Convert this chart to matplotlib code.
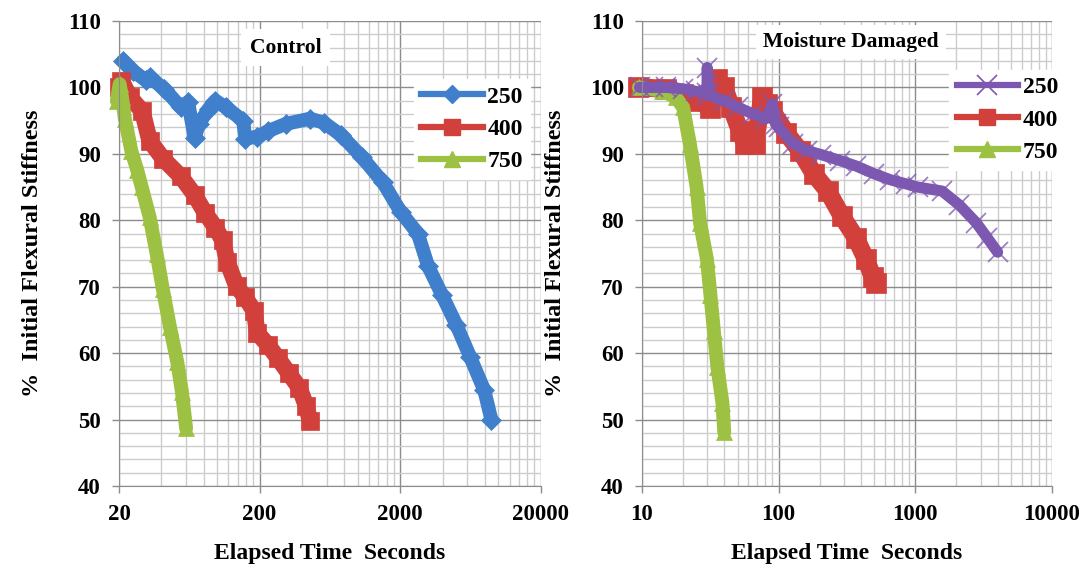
import numpy as np
import matplotlib
matplotlib.use("Agg")
import matplotlib.pyplot as plt
from matplotlib.ticker import FixedLocator, MultipleLocator, LogLocator, NullFormatter

plt.rcParams['font.family'] = ['Liberation Serif', 'DejaVu Serif']
plt.rcParams['font.weight'] = 'bold'

# --- Control (left panel) ---
ctrl_250_t = [21.4, 25, 31, 33, 42, 55, 62, 69, 74, 87, 97, 115, 153, 158, 193, 228, 306,
              457, 572, 763, 1070, 1509, 2010, 2670, 3160, 3980, 5010, 6300, 7930, 8900]
ctrl_250_s = [104, 102.5, 101.1, 101.5, 99.8, 97, 97.8, 92.4, 94.5, 96.8, 98, 97, 95, 92.3, 92.6, 93.4, 94.5,
              95.3, 94.7, 92.8, 89.5, 85.7, 81.3, 78, 73.1, 68.7, 64.3, 59.4, 54.4, 50]

ctrl_400_t = [20, 20.8, 24, 29.3, 33, 41, 55, 69, 82, 97, 109, 118, 137, 158, 183, 193,
              228, 271, 322, 383, 430, 457]
ctrl_400_s = [100, 101, 98.5, 96.4, 92, 89.3, 86.6, 83.8, 81.1, 78.9, 77, 73.7, 70.1, 68.4, 66.3, 63,
              61.3, 59.2, 57, 54.8, 52, 49.8]

ctrl_750_t = [19.3, 20.2, 21, 22, 24.5, 27, 29, 33, 37, 41, 46, 52, 56, 60]
ctrl_750_s = [98, 100.5, 98.5, 95.3, 90.4, 87.5, 85, 80.5, 75, 69.6, 64, 58.6, 54.2, 48.7]

# --- Moisture damaged (right panel) ---
mois_250_t = [9.6, 12, 15, 19.9, 25, 29.9, 30, 31, 40, 50.5, 65, 80.8, 90, 95, 100, 128, 160,
              204, 280, 366, 500, 656, 850, 1040, 1570, 2100, 2800, 3350, 4000]
mois_250_s = [100, 100, 100, 99.8, 99.4, 99.1, 103, 98.8, 98, 97, 96, 95.3, 97.5, 94.5, 94, 91.5, 90.5,
              89.9, 89, 88.2, 87, 86.1, 85.5, 85, 84.4, 82.3, 79.6, 77.4, 75.2]

mois_400_t = [9.3, 15, 19.9, 26, 31.7, 35.6, 40, 45, 52, 56.7, 67, 75.7, 82, 90, 114,
              144, 181, 229, 290, 366, 435, 489, 517]
mois_400_s = [100, 99.8, 99, 98, 96.9, 101.2, 100, 97, 93.5, 91.5, 91.5, 98.5, 97.5, 96.4, 93.1,
              90.4, 87, 84.4, 80.6, 77.4, 74.1, 71.4, 70.5]

mois_750_t = [9.5, 14, 17.7, 20, 22.4, 25.1, 26.6, 29.9, 31.7, 33.6, 35.6, 38.8, 40]
mois_750_s = [100, 99.5, 98.5, 97, 91.5, 85, 79.6, 74.1, 68.7, 63.3, 57.9, 52.5, 48.1]

labels = ['250', '400', '750']
blue, red, green, purple = '#3f7fcb', '#d2403c', '#9dc142', '#7d58b0'

fig = plt.figure(figsize=(10.87, 5.66), dpi=100)
ax1 = fig.add_axes([0.1095, 0.1413, 0.388, 0.8216])
ax2 = fig.add_axes([0.5906, 0.1413, 0.3772, 0.8216])


def style_axis(ax, xmin, xmax, minor_x):
    ax.set_xscale('log')
    ax.set_xlim(xmin, xmax)
    ax.set_ylim(40, 110)
    ax.yaxis.set_major_locator(MultipleLocator(10))
    ax.yaxis.set_minor_locator(MultipleLocator(2))
    ax.xaxis.set_minor_locator(minor_x)
    ax.xaxis.set_minor_formatter(NullFormatter())
    ax.grid(which='minor', color='#cccccc', lw=1.0)
    ax.grid(which='major', color='#8c8c8c', lw=1.0)
    ax.set_axisbelow(True)
    for sp in ax.spines.values():
        sp.set_visible(False)
    ax.spines['left'].set_visible(True)
    ax.spines['bottom'].set_visible(True)
    ax.spines['left'].set_color('#8c8c8c')
    ax.spines['bottom'].set_color('#8c8c8c')
    ax.tick_params(which='major', length=5, color='#8c8c8c', width=1, labelsize=16.5, pad=8)
    ax.tick_params(which='minor', length=0)
    ax.set_xlabel('Elapsed Time  Seconds', fontsize=17, fontweight='bold', labelpad=13)
    ax.set_ylabel('%  Initial Flexural Stiffness', fontsize=17.5, fontweight='bold', labelpad=17)


def band(ax, t, s, color, marker, ms, lw, mew=0.5, alpha=1.0):
    ax.plot(t, s, color=color, lw=lw, solid_capstyle='round', solid_joinstyle='round', clip_on=False)
    ax.plot(t, s, color=color, lw=0, marker=marker, ms=ms, mew=mew, alpha=alpha, clip_on=False)


ctrl_minor = FixedLocator([20 * k * 10 ** n for n in range(3) for k in range(2, 10)])
style_axis(ax1, 20, 20000, ctrl_minor)
ax1.xaxis.set_major_locator(FixedLocator([20, 200, 2000, 20000]))
ax1.set_xticklabels(['20', '200', '2000', '20000'])

band(ax1, ctrl_250_t, ctrl_250_s, blue, 'D', 10, 10)
band(ax1, ctrl_400_t, ctrl_400_s, red, 's', 13, 12)
band(ax1, ctrl_750_t, ctrl_750_s, green, '^', 12, 10)
ax1.plot([], [], color=blue, lw=4.5, marker='D', ms=9, label=labels[0])
ax1.plot([], [], color=red, lw=4.5, marker='s', ms=12, label=labels[1])
ax1.plot([], [], color=green, lw=4.5, marker='^', ms=12, label=labels[2])

style_axis(ax2, 10, 10000, LogLocator(base=10, subs=np.arange(2, 10)))
ax2.xaxis.set_major_locator(FixedLocator([10, 100, 1000, 10000]))
ax2.set_xticklabels(['10', '100', '1000', '10000'])

band(ax2, mois_400_t, mois_400_s, red, 's', 14, 13)
band(ax2, mois_750_t, mois_750_s, green, '^', 12, 10)
band(ax2, mois_250_t, mois_250_s, purple, 'x', 15, 8, mew=1.3, alpha=0.75)
ax2.plot([], [], color=purple, lw=4.5, marker='x', ms=14, mew=1.2, label=labels[0])
ax2.plot([], [], color=red, lw=4.5, marker='s', ms=12, label=labels[1])
ax2.plot([], [], color=green, lw=4.5, marker='^', ms=12, label=labels[2])

for ax, loc in [(ax1, (0.70, 0.66)), (ax2, (0.75, 0.68))]:
    leg = ax.legend(loc='lower left', bbox_to_anchor=loc, frameon=True, fontsize=17,
                    handlelength=2.6, handletextpad=0.2, labelspacing=0.45,
                    borderpad=0.3, borderaxespad=0, fancybox=False)
    leg.get_frame().set_edgecolor('white')
    leg.get_frame().set_facecolor('white')
    leg.get_frame().set_alpha(1)

ax1.text(0.395, 0.943, 'Control', transform=ax1.transAxes, ha='center', va='center',
         fontsize=15.5, fontweight='bold',
         bbox=dict(facecolor='white', edgecolor='none', pad=6))
ax2.text(0.51, 0.955, 'Moisture Damaged', transform=ax2.transAxes, ha='center', va='center',
         fontsize=15.5, fontweight='bold',
         bbox=dict(facecolor='white', edgecolor='none', pad=5))

fig.savefig('out.png', dpi=100, facecolor='white')
